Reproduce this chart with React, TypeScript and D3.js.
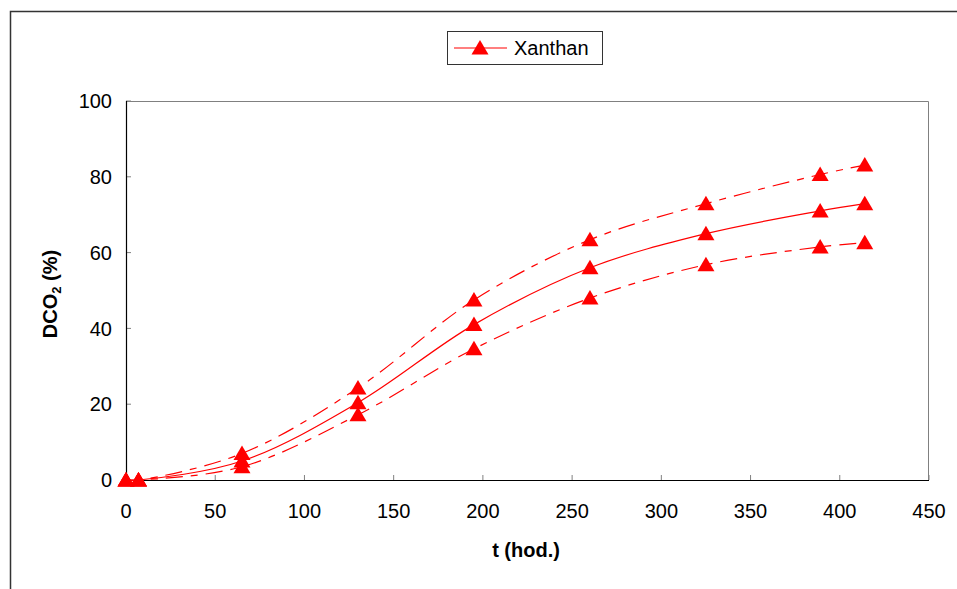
import { useMemo } from "react";
import * as d3 from "d3";

const WIDTH = 957;
const HEIGHT = 589;
const MARGIN = { top: 101, right: 28, bottom: 109, left: 126 };

// hours
const tHours = [0, 7, 65, 130, 195, 260, 325, 389, 414];
// DCO2 (%) mean, upper and lower bound
const xanthanMean = [0, 0, 5, 20.4, 41, 56, 65, 71, 72.9];
const xanthanUpper = [0, 0, 7, 24.3, 47.5, 63.4, 72.9, 80.6, 83.1];
const xanthanLower = [0, 0, 3.5, 17.2, 34.6, 48, 56.8, 61.5, 62.6];

const xTicks = [0, 50, 100, 150, 200, 250, 300, 350, 400, 450];
const yTicks = [0, 20, 40, 60, 80, 100];

const RED = "#ff0000";
const FONT = "'Liberation Sans', Arial, sans-serif";

const Triangle = ({ x, y }: { x: number; y: number }) => (
  <path d={`M${x},${y - 8} L${x + 8.5},${y + 6.5} L${x - 8.5},${y + 6.5} Z`} fill={RED} />
);

export default function App() {
  const boundsWidth = WIDTH - MARGIN.left - MARGIN.right;
  const boundsHeight = HEIGHT - MARGIN.top - MARGIN.bottom;

  const xScale = useMemo(() => d3.scaleLinear().domain([0, 450]).range([0, boundsWidth]), [boundsWidth]);
  const yScale = useMemo(() => d3.scaleLinear().domain([0, 100]).range([boundsHeight, 0]), [boundsHeight]);

  const lineGen = d3
    .line<number>()
    .x((_, i) => xScale(tHours[i]))
    .y((d) => yScale(d))
    .curve(d3.curveCatmullRom.alpha(0.5));

  const series = [
    { values: xanthanUpper, dash: "17,8,7,8" },
    { values: xanthanMean, dash: undefined },
    { values: xanthanLower, dash: "17,8,7,8" },
  ];

  return (
    <svg width={WIDTH} height={HEIGHT} style={{ position: "absolute", left: 0, top: 0, background: "#fff" }}>
      {/* outer frame */}
      <path d={`M10.5,${HEIGHT} V11.5 H${WIDTH}`} fill="none" stroke="#333" strokeWidth={1.5} />

      <g transform={`translate(${MARGIN.left},${MARGIN.top})`}>
        {/* plot box top/right */}
        <path d={`M0,0.5 H${boundsWidth - 0.5} V${boundsHeight}`} fill="none" stroke="#808080" strokeWidth={1} />

        {yTicks.map((t) => (
          <g key={"y" + t}>
            <line x1={0} x2={5} y1={yScale(t)} y2={yScale(t)} stroke="#808080" />
            <text x={-14} y={yScale(t)} dy="0.36em" textAnchor="end" fontSize={20} fontFamily={FONT}>
              {t}
            </text>
          </g>
        ))}
        {xTicks.map((t) => (
          <g key={"x" + t}>
            <line x1={xScale(t)} x2={xScale(t)} y1={boundsHeight} y2={boundsHeight - 5} stroke="#808080" />
            <text x={xScale(t)} y={boundsHeight + 38} textAnchor="middle" fontSize={20} fontFamily={FONT}>
              {t}
            </text>
          </g>
        ))}

        {/* axes */}
        <line x1={0.5} x2={0.5} y1={0} y2={boundsHeight} stroke="#000" strokeWidth={1.2} />
        <line x1={0} x2={boundsWidth} y1={boundsHeight + 0.5} y2={boundsHeight + 0.5} stroke="#000" strokeWidth={1.2} />

        {series.map((s, i) => (
          <path
            key={"l" + i}
            d={lineGen(s.values) ?? ""}
            fill="none"
            stroke={RED}
            strokeWidth={1.2}
            strokeDasharray={s.dash}
          />
        ))}
        {series.map((s, i) =>
          s.values.map((v, j) => <Triangle key={`m${i}-${j}`} x={xScale(tHours[j])} y={yScale(v)} />)
        )}
      </g>

      {/* axis titles */}
      <text x={526} y={557} textAnchor="middle" fontSize={20} fontWeight="bold" fontFamily={FONT}>
        t (hod.)
      </text>
      <text
        transform="translate(57,294) rotate(-90)"
        textAnchor="middle"
        fontSize={20}
        fontWeight="bold"
        fontFamily={FONT}
      >
        DCO<tspan fontSize={13} dy={4}>2</tspan>
        <tspan dy={-4}> (%)</tspan>
      </text>

      {/* legend */}
      <rect x={447.5} y={31.5} width={155} height={33} fill="#fff" stroke="#333" strokeWidth={1} />
      <line x1={454} x2={507} y1={48} y2={48} stroke={RED} strokeWidth={1.2} />
      <Triangle x={480} y={48} />
      <text x={514} y={55} fontSize={20} fontFamily={FONT}>
        Xanthan
      </text>
    </svg>
  );
}
